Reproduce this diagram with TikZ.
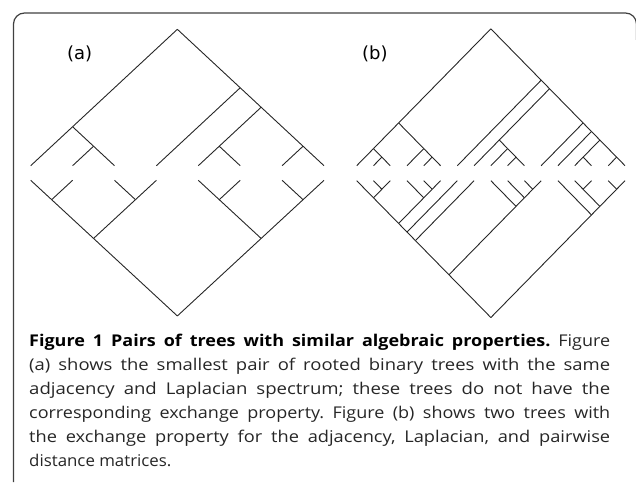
\documentclass[tikz,border=0pt]{standalone}
\usepackage{graphicx}
\usepackage{fontspec}
\setmainfont{Open Sans}
\newfontfamily\labfont{DejaVu Sans}
\frenchspacing
\newcommand\tedge[4]{%
  \coordinate (\tp-#1-#2) at ({\tx+\td*(#1+#2)/2},{\ty+\ts*\td*(#2-#1)/2});
  \coordinate (\tp-#3-#4) at ({\tx+\td*(#3+#4)/2},{\ty+\ts*\td*(#4-#3)/2});
  \draw[tline] (\tp-#1-#2) -- (\tp-#3-#4);}
\newlength\capw
\newcommand\jline[1]{%
  \settowidth\capw{#1}%
  \pgfmathsetmacro\capr{581/\capw}%
  \pgfmathsetmacro\capsx{\capr>1 ? 1+0.65*(\capr-1) : \capr}%
  \pgfmathsetmacro\capbw{581/\capsx}%
  \scalebox{\capsx}[1]{\makebox[\capbw pt][s]{#1}}}
\tikzset{
  tline/.style={draw=black!85, line width=0.9pt},
  boxline/.style={draw=black!75, line width=1.2pt, rounded corners=11pt},
  panellabel/.style={inner sep=0pt, anchor=center, font=\labfont\fontsize{18}{20}\selectfont},
  capline/.style={inner sep=0pt, anchor=base west, text=black!85, font=\fontsize{16.2}{20}\selectfont}
}
\begin{document}
\begin{tikzpicture}[x=1pt,y=-1pt]
\useasboundingbox (0,0) rectangle (636,492);
\begin{scope}
\clip (0,0) rectangle (636,492);
\draw[boxline] (13.5,482) -- (13.5,13) -- (636.5,13) -- (636.5,40);
\end{scope}
% panel labels
\node[panellabel] (la) at (79.7,54.3) {(a)};
\node[panellabel] (lb) at (374.8,54.3) {(b)};
% tree (a) upper
\def\tp{A}\def\tx{30.7}\def\td{41.9}\def\ty{165.7}\def\ts{-0.93}
\foreach \pa/\pb/\ca/\cb in {0/7/0/2,0/7/3/7,0/2/0/0,0/2/1/2,1/2/1/1,1/2/2/2,3/7/3/3,3/7/4/7,4/7/4/5,4/7/6/7,4/5/4/4,4/5/5/5,6/7/6/6,6/7/7/7}{\tedge{\pa}{\pb}{\ca}{\cb}}
% tree (a) lower
\def\tp{B}\def\tx{30.7}\def\td{41.9}\def\ty{180.3}\def\ts{0.925}
\foreach \pa/\pb/\ca/\cb in {0/7/0/3,0/7/4/7,0/3/0/1,0/3/2/3,4/7/4/5,4/7/6/7,0/1/0/0,0/1/1/1,2/3/2/2,2/3/3/3,4/5/4/4,4/5/5/5,6/7/6/6,6/7/7/7}{\tedge{\pa}{\pb}{\ca}{\cb}}
% tree (b) upper
\def\tp{C}\def\tx{356.7}\def\td{16.77}\def\ty{165.7}\def\ts{-1.02}
\foreach \pa/\pb/\ca/\cb in {0/16/0/5,0/16/6/16,0/5/0/2,0/5/3/5,0/2/0/0,0/2/1/2,1/2/1/1,1/2/2/2,3/5/3/3,3/5/4/5,4/5/4/4,4/5/5/5,6/16/6/6,6/16/7/16,7/16/7/10,7/16/11/16,7/10/7/7,7/10/8/10,8/10/8/8,8/10/9/10,9/10/9/9,9/10/10/10,11/16/11/11,11/16/12/16,12/16/12/12,12/16/13/16,13/16/13/14,13/16/15/16,13/14/13/13,13/14/14/14,15/16/15/15,15/16/16/16}{\tedge{\pa}{\pb}{\ca}{\cb}}
% tree (b) lower
\def\tp{D}\def\tx{356.7}\def\td{16.77}\def\ty{180.7}\def\ts{1.02}
\foreach \pa/\pb/\ca/\cb in {0/16/0/11,0/16/12/16,0/11/0/7,0/11/8/11,0/7/0/6,0/7/7/7,0/6/0/5,0/6/6/6,0/5/0/2,0/5/3/5,0/2/0/0,0/2/1/2,1/2/1/1,1/2/2/2,3/5/3/3,3/5/4/5,4/5/4/4,4/5/5/5,8/11/8/8,8/11/9/11,9/11/9/9,9/11/10/11,10/11/10/10,10/11/11/11,12/16/12/12,12/16/13/16,13/16/13/14,13/16/15/16,13/14/13/13,13/14/14/14,15/16/15/15,15/16/16/16}{\tedge{\pa}{\pb}{\ca}{\cb}}
% caption
\node[capline] (c1) at (29,346) {\jline{\textbf{\color{black}Figure 1 Pairs of trees with similar algebraic properties.} Figure}};
\node[capline] (c2) at (29,370) {\jline{(a) shows the smallest pair of rooted binary trees with the same}};
\node[capline] (c3) at (29,394) {\jline{adjacency and Laplacian spectrum; these trees do not have the}};
\node[capline] (c4) at (29,418) {\jline{corresponding exchange property. Figure (b) shows two trees with}};
\node[capline] (c5) at (29,442) {\jline{the exchange property for the adjacency, Laplacian, and pairwise}};
\node[capline] (c6) at (29,466) {\scalebox{1.04}[1]{distance matrices.}};
\end{tikzpicture}
\end{document}
